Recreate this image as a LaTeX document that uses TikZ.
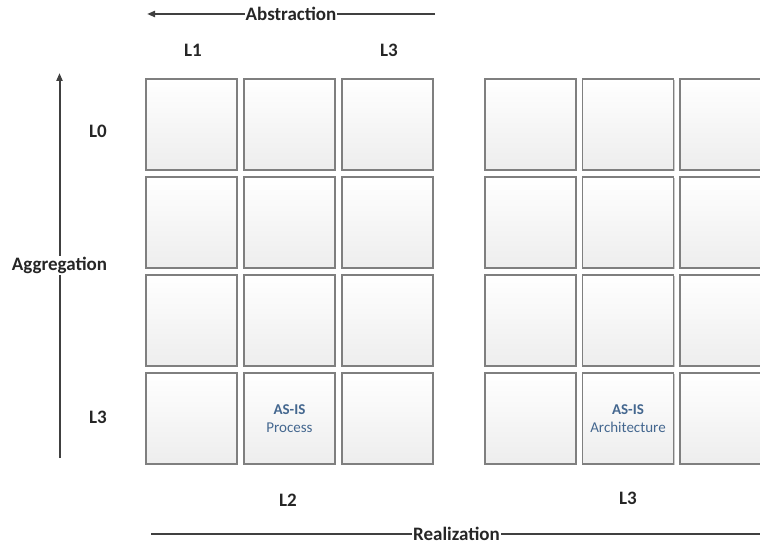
\documentclass[tikz,border=0pt]{standalone}
\usepackage{fontspec}
\setmainfont{Carlito}
\usetikzlibrary{arrows.meta, shadows}

\definecolor{axisgray}{HTML}{404040}
\definecolor{cellgray}{HTML}{7F7F7F}
\definecolor{asisblue}{HTML}{44678F}

\begin{document}
\begin{tikzpicture}[x=1pt, y=-1pt,
    every node/.style={font=\bfseries\fontsize{19}{22}\selectfont, text=black!85},
    cell/.style={draw=cellgray, line width=1.2pt, top color=white, bottom color=black!7,
      minimum size=91pt, inner sep=0pt,
      drop shadow={shadow xshift=1.2pt, shadow yshift=-1.2pt, opacity=0.2, fill=black}},
    axisline/.style={draw=axisgray, line width=2pt},
    axislabel/.style={fill=white, inner sep=1pt},
    asis/.style={font=\fontsize{15}{18}\selectfont, text=asisblue, align=center}
  ]
  \clip (0,0) rectangle (760,545);

  % two 4x3 grids: process (left) and architecture (right)
  \foreach \r in {0,...,3}
    \foreach \c in {0,...,2} {
      \node[cell] (p-\r-\c) at ({191.5+98*\c}, {124.5+98*\r}) {};
      \node[cell] (a-\r-\c) at ({530.5+97.5*\c}, {124.5+98*\r}) {};
    }

  % AS-IS cells
  \node[asis] at (p-3-1) {\textbf{AS-IS}\\Process};
  \node[asis] at (a-3-1) {\textbf{AS-IS}\\Architecture};

  % axes
  \coordinate (abs-r) at (435,14);
  \coordinate (abs-l) at (147,14);
  \draw[axisline, -{Triangle[length=8pt, width=6pt]}] (abs-r) -- node[axislabel] {Abstraction} (abs-l);

  \coordinate (agg-b) at (59.5,458);
  \coordinate (agg-t) at (59.5,73);
  \draw[axisline, -{Triangle[length=8pt, width=6pt]}] (agg-b) -- node[axislabel] {Aggregation} (agg-t);

  \coordinate (real-l) at (151,534);
  \coordinate (real-r) at (762,534);
  \draw[axisline] (real-l) -- node[axislabel] {Realization} (real-r);

  % level labels
  \node at (193,50) {L1};
  \node at (389,50) {L3};
  \node at (98,131) {L0};
  \node at (98,417) {L3};
  \node at (288,500) {L2};
  \node at (628,498) {L3};
\end{tikzpicture}
\end{document}
